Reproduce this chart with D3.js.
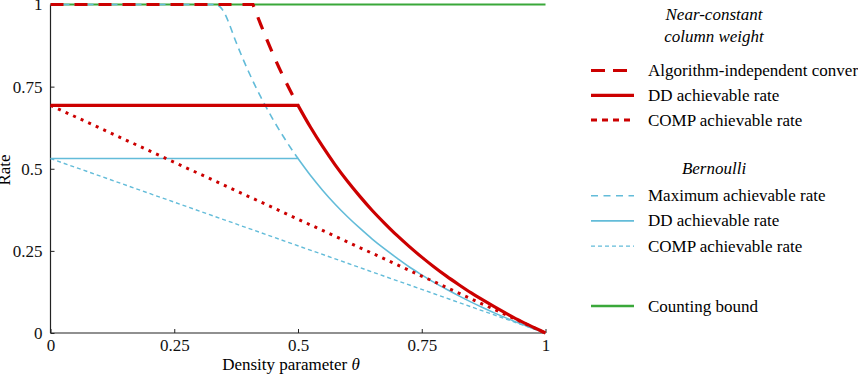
<!DOCTYPE html>
<html>
<head>
<meta charset="utf-8">
<script src="https://cdn.jsdelivr.net/npm/d3@7"></script>
<style>
  body { margin: 0; background: #fff; }
  svg { display: block; }
  .tick text { font-size: 17px; fill: #111; }
</style>
</head>
<body>
<svg id="chart" width="858" height="376" font-family="Liberation Serif, Times New Roman, serif"></svg>
<script>
// values: [theta, rate]
const countingBound = [[0, 1], [1, 1]];

const ncConverse = [[0, 1], [0.409, 1],
  [0.425, 0.938], [0.45, 0.847], [0.475, 0.766], [0.5, 0.693]];
const ncDD = [[0, 0.693], [0.5, 0.693],
  [0.525, 0.627], [0.55, 0.567], [0.575, 0.512], [0.6, 0.462], [0.625, 0.416],
  [0.65, 0.373], [0.675, 0.334], [0.7, 0.297], [0.725, 0.263], [0.75, 0.231],
  [0.775, 0.201], [0.8, 0.173], [0.825, 0.147], [0.85, 0.122], [0.875, 0.099],
  [0.9, 0.077], [0.925, 0.056], [0.95, 0.036], [0.975, 0.018], [1, 0]];
const ncCOMP = [[0, 0.693], [1, 0]];

const bernMax = [[0, 1], [0.333, 1],
  [0.34, 0.996], [0.345, 0.989], [0.35, 0.978], [0.355, 0.963], [0.359, 0.949],
  [0.375, 0.885], [0.4, 0.796], [0.425, 0.718], [0.45, 0.649], [0.475, 0.587], [0.5, 0.531]];
const bernDD = [[0, 0.531], [0.5, 0.531],
  [0.525, 0.480], [0.55, 0.434], [0.575, 0.392], [0.6, 0.354], [0.625, 0.319],
  [0.65, 0.286], [0.675, 0.256], [0.7, 0.228], [0.725, 0.201], [0.75, 0.177],
  [0.775, 0.154], [0.8, 0.133], [0.825, 0.113], [0.85, 0.094], [0.875, 0.076],
  [0.9, 0.059], [0.925, 0.043], [0.95, 0.028], [0.975, 0.014], [1, 0]];
const bernCOMP = [[0, 0.531], [1, 0]];

const xTicks = [0, 0.25, 0.5, 0.75, 1];
const yTicks = [0, 0.25, 0.5, 0.75, 1];
const xTickLabels = ['0', '0.25', '0.5', '0.75', '1'];
const yTickLabels = ['0', '0.25', '0.5', '0.75', '1'];

const ncTitle = ['Near-constant', 'column weight'];
const ncLabels = ['Algorithm-independent converse', 'DD achievable rate', 'COMP achievable rate'];
const bernTitle = ['Bernoulli'];
const bernLabels = ['Maximum achievable rate', 'DD achievable rate', 'COMP achievable rate'];
const countingLabel = 'Counting bound';

const RED = '#cc0000', BLUE = '#63bcd9', GREEN = '#3aa83a';

const svg = d3.select('#chart');
const x = d3.scaleLinear().domain([0, 1]).range([50.5, 545.5]);
const y = d3.scaleLinear().domain([0, 1]).range([333, 4.5]);

// axes (ticks point inward)
const xAxis = svg.append('g')
  .attr('transform', 'translate(0,' + y(0) + ')')
  .call(d3.axisBottom(x).tickValues(xTicks).tickSizeInner(-4).tickSizeOuter(0)
    .tickPadding(6).tickFormat((d, i) => xTickLabels[i]));
const yAxis = svg.append('g')
  .attr('transform', 'translate(' + x(0) + ',0)')
  .call(d3.axisLeft(y).tickValues(yTicks).tickSizeInner(-4).tickSizeOuter(0)
    .tickPadding(8).tickFormat((d, i) => yTickLabels[i]));
[xAxis, yAxis].forEach((a) => {
  a.select('.domain').attr('stroke', '#222').attr('stroke-width', 1.2);
  a.selectAll('.tick line').attr('stroke', '#222');
  a.attr('font-family', null).attr('font-size', null);
});
xAxis.select('.domain').attr('d', 'M' + x(0) + ',0H' + x(1));
yAxis.select('.domain').attr('d', 'M0,' + y(0) + 'V' + y(1));

svg.append('text')
  .attr('x', 291).attr('y', 370)
  .attr('text-anchor', 'middle').attr('font-size', 17)
  .html('Density parameter <tspan font-style="italic">θ</tspan>');
svg.append('text')
  .attr('transform', 'translate(10,170) rotate(-90)')
  .attr('text-anchor', 'middle').attr('font-size', 17)
  .text('Rate');

// straight part up to the knee, smooth part after it
const lin = d3.line().x((d) => x(d[0])).y((d) => y(d[1]));
const smooth = d3.line().x((d) => x(d[0])).y((d) => y(d[1])).curve(d3.curveMonotoneX);
function kneePath(pts) {
  const head = lin(pts.slice(0, 2));
  if (pts.length <= 2) return head;
  return head + smooth(pts.slice(1)).replace(/^M/, 'L');
}

const series = [
  { pts: countingBound, color: GREEN, w: 2.2, dash: null },
  { pts: bernMax, color: BLUE, w: 1.6, dash: '7,5' },
  { pts: bernDD, color: BLUE, w: 1.6, dash: null },
  { pts: bernCOMP, color: BLUE, w: 1.4, dash: '4,3' },
  { pts: ncConverse, color: RED, w: 3.2, dash: '13,11' },
  { pts: ncDD, color: RED, w: 3.2, dash: null },
  { pts: ncCOMP, color: RED, w: 3, dash: '3,5.3' }
];

svg.append('g').selectAll('path').data(series).join('path')
  .attr('d', (s) => kneePath(s.pts))
  .attr('fill', 'none')
  .attr('stroke', (s) => s.color)
  .attr('stroke-width', (s) => s.w)
  .attr('stroke-dasharray', (s) => s.dash);

// legend
const lg = svg.append('g');
const lineX0 = 591, lineX1 = 634, textX = 648;

function legendTitle(lines, y0) {
  lg.selectAll(null).data(lines).join('text')
    .attr('x', 714).attr('y', (d, i) => y0 + i * 22)
    .attr('text-anchor', 'middle').attr('font-size', 17).attr('font-style', 'italic')
    .text((d) => d);
}
function legendRows(labels, styles, y0, step) {
  const rows = lg.selectAll(null).data(labels).join('g')
    .attr('transform', (d, i) => 'translate(0,' + (y0 + i * step) + ')');
  rows.append('line')
    .attr('x1', lineX0).attr('x2', lineX1)
    .attr('stroke', (d, i) => styles[i].color)
    .attr('stroke-width', (d, i) => styles[i].w)
    .attr('stroke-dasharray', (d, i) => styles[i].dash);
  rows.append('text')
    .attr('x', textX).attr('y', 5.5).attr('font-size', 17)
    .text((d) => d);
}

legendTitle(ncTitle, 20);
legendRows(ncLabels, [
  { color: RED, w: 3.2, dash: '14,8' },
  { color: RED, w: 3.2, dash: null },
  { color: RED, w: 3, dash: '6,5' }
], 70.5, 24.8);
legendTitle(bernTitle, 174);
legendRows(bernLabels, [
  { color: BLUE, w: 1.6, dash: '7,5.5' },
  { color: BLUE, w: 1.6, dash: null },
  { color: BLUE, w: 1.4, dash: '4,3' }
], 195.7, 25.2);
legendRows([countingLabel], [{ color: GREEN, w: 2.5, dash: null }], 306, 0);
</script>
</body>
</html>
